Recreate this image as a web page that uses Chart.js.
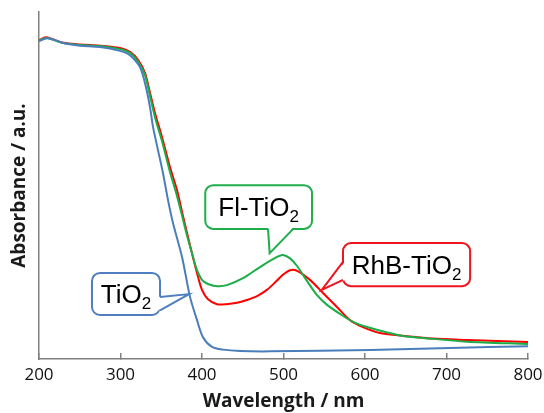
<!DOCTYPE html>
<html>
<head>
<meta charset="utf-8">
<script src="https://cdn.jsdelivr.net/npm/chart.js@4"></script>
<style>
  html, body { margin: 0; padding: 0; background: #fff; }
</style>
</head>
<body>
<canvas id="grafico" width="544" height="413"></canvas>
<script>
// ---------- dados ----------
const nmTiO2 = [200, 209.8, 219.6, 231.9, 250.3, 274.8, 299.4, 309.2, 315.3, 323.9, 330.1, 336.2, 339.9, 346, 352.1, 358.3, 364.4, 375.5, 385.3, 393.9, 401.2, 412.3, 425.8, 446.6, 483.4, 606.1, 704.3, 800];
const absTiO2 = [0.916, 0.924, 0.919, 0.909, 0.903, 0.899, 0.888, 0.879, 0.867, 0.841, 0.795, 0.726, 0.669, 0.602, 0.536, 0.458, 0.392, 0.294, 0.179, 0.112, 0.063, 0.035, 0.027, 0.023, 0.022, 0.026, 0.032, 0.037];

const nmFl = [200, 208.6, 216, 228.2, 250.3, 274.8, 299.4, 311.7, 321.5, 330.1, 336.2, 342.3, 350.9, 360.7, 369.3, 376.7, 381.6, 389, 393.9, 400, 407.4, 418.4, 430.7, 450.3, 471.2, 492, 499.4, 508, 516.6, 528.8, 541.1, 553.4, 569.3, 585.3, 602.5, 642.9, 683.4, 725.2, 800];
const absFl = [0.918, 0.925, 0.921, 0.911, 0.905, 0.902, 0.893, 0.882, 0.857, 0.818, 0.758, 0.697, 0.628, 0.539, 0.470, 0.402, 0.356, 0.294, 0.256, 0.228, 0.216, 0.210, 0.213, 0.233, 0.265, 0.294, 0.300, 0.290, 0.268, 0.225, 0.184, 0.156, 0.130, 0.107, 0.092, 0.068, 0.058, 0.050, 0.043];

const nmRhB = [200, 208.6, 216, 228.2, 250.3, 274.8, 299.4, 311.7, 321.5, 330.1, 336.2, 342.3, 350.9, 360.7, 369.3, 376.7, 387.7, 393.9, 400, 407.4, 418.4, 430, 443, 455, 467.5, 480, 492, 500, 508, 516.6, 532.5, 548.5, 565.6, 581.6, 597.5, 618.4, 642.9, 683.4, 725.2, 800];
const absRhB = [0.919, 0.927, 0.922, 0.912, 0.906, 0.903, 0.896, 0.885, 0.862, 0.824, 0.767, 0.709, 0.640, 0.553, 0.487, 0.412, 0.305, 0.248, 0.199, 0.172, 0.158, 0.158, 0.162, 0.170, 0.181, 0.200, 0.226, 0.244, 0.256, 0.254, 0.228, 0.190, 0.150, 0.112, 0.092, 0.075, 0.068, 0.059, 0.055, 0.049];

const xTicks = [200, 300, 400, 500, 600, 700, 800];

// balões (em coordenadas de dados: nm / absorbância)
const balloons = [
    { text: "Fl-TiO", sub: "2", color: "#1fae4b", box: [404, 535, 0.501, 0.375], base: [[481, 0.375], [512, 0.375]], tip: [483, 0.305] },
    { text: "RhB-TiO", sub: "2", color: "#f0141e", box: [573, 729, 0.334, 0.210], base: [[573, 0.280], [573, 0.228]], tip: [547, 0.199] },
    { text: "TiO", sub: "2", color: "#4f7fc0", box: [265, 348.5, 0.248, 0.127], base: [[348.5, 0.179], [348.5, 0.140]], tip: [384, 0.187] }
];

function pontos(xs, ys) {
    return xs.map((x, i) => ({ x: x, y: ys[i] }));
}

// ---------- plugin dos balões ----------
const balloonPlugin = {
    id: "balloons",
    afterDatasetsDraw(chart) {
        const ctx = chart.ctx;
        const sx = chart.scales.x, sy = chart.scales.y;
        const px = v => sx.getPixelForValue(v);
        const py = v => sy.getPixelForValue(v);

        balloons.forEach(b => {
            const x1 = px(b.box[0]), x2 = px(b.box[1]);
            const y1 = py(b.box[2]), y2 = py(b.box[3]);
            ctx.save();
            ctx.lineWidth = 2;
            ctx.strokeStyle = b.color;
            ctx.fillStyle = "#fff";
            ctx.beginPath();
            ctx.roundRect(x1, y1, x2 - x1, y2 - y1, 8);
            ctx.fill();
            ctx.stroke();

            // ponta do balão
            const bA = [px(b.base[0][0]), py(b.base[0][1])];
            const bB = [px(b.base[1][0]), py(b.base[1][1])];
            const t = [px(b.tip[0]), py(b.tip[1])];
            const cx = (x1 + x2) / 2, cy = (y1 + y2) / 2;
            const dx = bA[0] === bB[0] ? Math.sign(cx - bA[0]) * 2 : 0;
            const dy = bA[1] === bB[1] ? Math.sign(cy - bA[1]) * 2 : 0;
            ctx.beginPath();
            ctx.moveTo(bA[0] + dx, bA[1] + dy);
            ctx.lineTo(t[0], t[1]);
            ctx.lineTo(bB[0] + dx, bB[1] + dy);
            ctx.closePath();
            ctx.fill();
            ctx.beginPath();
            ctx.moveTo(bA[0], bA[1]);
            ctx.lineTo(t[0], t[1]);
            ctx.lineTo(bB[0], bB[1]);
            ctx.stroke();

            // texto com subscrito
            const fMain = "26px 'Liberation Sans', Arial, sans-serif";
            const fSub = "17px 'Liberation Sans', Arial, sans-serif";
            ctx.font = fMain;
            const w1 = ctx.measureText(b.text).width;
            ctx.font = fSub;
            const w2 = ctx.measureText(b.sub).width;
            const start = cx - (w1 + w2) / 2;
            const base = cy + 9;
            ctx.fillStyle = "#000";
            ctx.textBaseline = "alphabetic";
            ctx.textAlign = "left";
            ctx.font = fMain;
            ctx.fillText(b.text, start, base);
            ctx.font = fSub;
            ctx.fillText(b.sub, start + w1, base + 6);
            ctx.restore();
        });
    }
};

new Chart(document.getElementById("grafico"), {
    type: "line",
    data: {
        datasets: [
            { label: "TiO2", data: pontos(nmTiO2, absTiO2), borderColor: "#4a7ebb" },
            { label: "Fl-TiO2", data: pontos(nmFl, absFl), borderColor: "#1aae48" },
            { label: "RhB-TiO2", data: pontos(nmRhB, absRhB), borderColor: "#ff0000" }
        ]
    },
    options: {
        responsive: false,
        animation: false,
        devicePixelRatio: 1,
        layout: { padding: { top: 12, right: 0, left: 0, bottom: 0 } },
        elements: {
            line: { borderWidth: 2, tension: 0.3, fill: false },
            point: { radius: 0 }
        },
        plugins: {
            legend: { display: false },
            tooltip: { enabled: false }
        },
        scales: {
            x: {
                type: "linear",
                min: 200,
                max: 800,
                afterBuildTicks: s => { s.ticks = xTicks.map(v => ({ value: v })); },
                afterFit: s => { s.height = 54; s.paddingLeft = 0; s.paddingRight = 16; },
                grid: { drawOnChartArea: false, drawTicks: true, tickLength: -6, color: "#808080", lineWidth: 1.5 },
                border: { display: true, color: "#808080", width: 1.5 },
                ticks: { color: "#111", padding: 12, font: { family: "Open Sans", size: 17 } },
                title: {
                    display: true,
                    text: "Wavelength / nm",
                    color: "#1a1a1a",
                    font: { family: "Open Sans", size: 19, weight: "bold" },
                    padding: { top: 0, bottom: 0 }
                }
            },
            y: {
                min: 0,
                max: 1,
                afterFit: s => { s.width = 39; },
                grid: { drawOnChartArea: false, drawTicks: false },
                border: { display: true, color: "#808080", width: 1.5 },
                ticks: { display: false },
                title: {
                    display: true,
                    text: "Absorbance / a.u.",
                    color: "#1a1a1a",
                    font: { family: "Open Sans", size: 19, weight: "bold" },
                    padding: { top: 8, bottom: 0 }
                }
            }
        }
    },
    plugins: [balloonPlugin]
});
</script>
</body>
</html>
